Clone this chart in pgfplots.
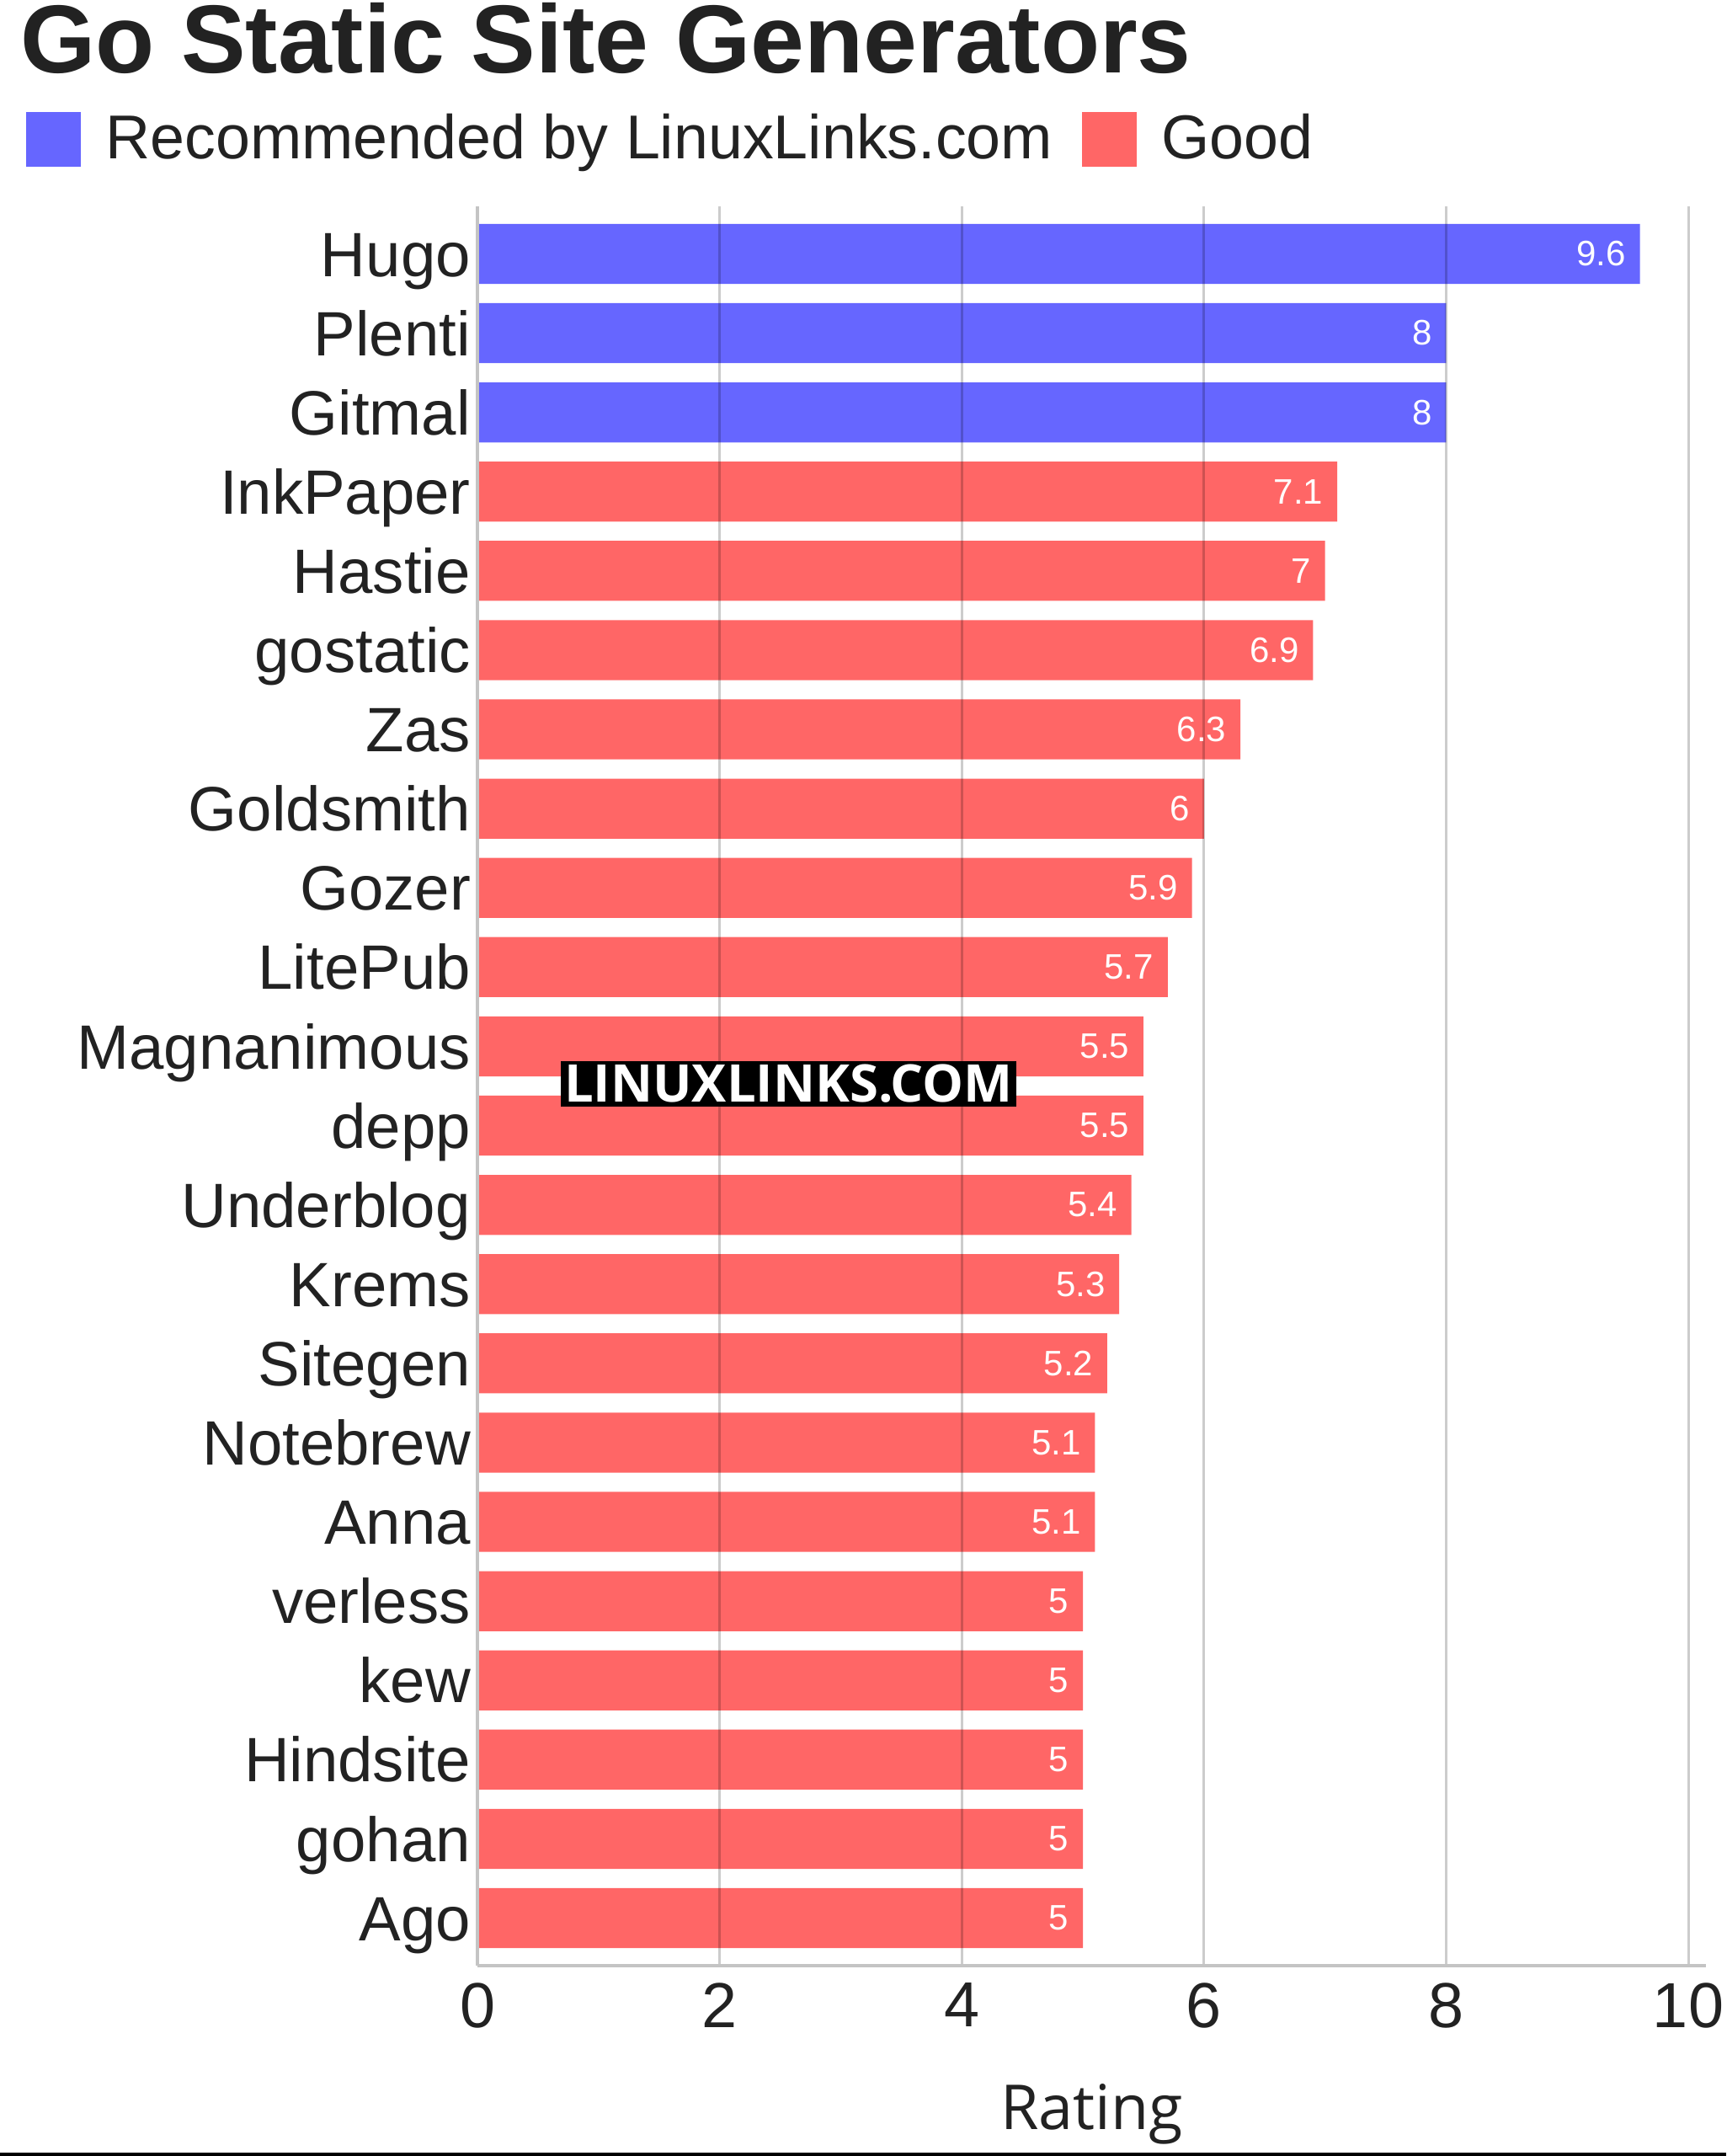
\documentclass[border=0pt]{standalone}
\usepackage{fontspec}
\setmainfont{Liberation Sans}
\newfontfamily\opensans{Open Sans}
\usepackage{pgfplots}
\pgfplotsset{compat=1.18}
\definecolor{rec}{HTML}{6666FF}
\definecolor{good}{HTML}{FF6666}
\definecolor{txt}{HTML}{222222}
\definecolor{axl}{HTML}{C4C4C4}
\begin{document}
\begin{tikzpicture}
\useasboundingbox (0pt,0pt) rectangle (512.5pt,640pt);
\begin{axis}[
  at={(141.8pt,56.5pt)}, anchor=south west,
  scale only axis, width=364.7pt, height=522.25pt,
  xbar, bar width=0.757, bar shift=0pt,
  xmin=0, xmax=10.146, ymin=-0.6, ymax=21.6,
  xtick={0,2,4,6,8,10}, ytick={0,...,21},
  yticklabels={Ago,gohan,Hindsite,kew,verless,Anna,Notebrew,Sitegen,Krems,Underblog,depp,Magnanimous,LitePub,Gozer,Goldsmith,Zas,gostatic,Hastie,InkPaper,Gitmal,Plenti,Hugo},
  axis x line*=bottom, axis y line*=left,
  axis line style={draw=axl, line width=1pt, -},
  major tick length=0pt, tick style={draw=none},
  xmajorgrids, grid style={black, opacity=0.2, line width=0.75pt},
  axis on top,
  /pgf/number format/assume math mode=true,
  ticklabel style={font=\fontsize{18.9pt}{20pt}\selectfont, text=txt},
  yticklabel style={font=\fontsize{18.6pt}{20pt}\selectfont, inner sep=0pt, anchor=base east, xshift=-1.9pt, yshift=-6.66pt},
  xticklabel style={inner sep=0pt, anchor=north, yshift=-5pt},
  xlabel={Rating},
  xlabel style={font=\opensans\fontsize{18.4pt}{20pt}\selectfont, text=txt, at={(axis description cs:0.5,-0.0929)}, anchor=base, inner sep=0pt},
  nodes near coords, nodes near coords align={anchor=east},
  every node near coord/.append style={font=\fontsize{10.5pt}{12pt}\selectfont, text=white, inner sep=0pt, xshift=-4pt},
  legend columns=2, legend cell align=left,
  legend style={at={(axis description cs:-0.3678,1.0382)}, anchor=west, draw=none, fill=none, inner sep=0pt, font=\fontsize{18.4pt}{20pt}\selectfont, text=txt, nodes={inner sep=0pt}, /tikz/every even column/.append style={column sep=8.75pt}},
  legend image code/.code={\fill[#1] (0pt,-8.1pt) rectangle (16.2pt,8.1pt); \path (23.5pt,0pt);},
]
\addplot[fill=rec, draw=none] coordinates {(9.6,21) (8,20) (8,19)};
\addplot[fill=good, draw=none] coordinates {(7.1,18) (7,17) (6.9,16) (6.3,15) (6,14) (5.9,13) (5.7,12) (5.5,11) (5.5,10) (5.4,9) (5.3,8) (5.2,7) (5.1,6) (5.1,5) (5,4) (5,3) (5,2) (5,1) (5,0)};
\legend{Recommended by LinuxLinks.com, Good}
\end{axis}
\node[anchor=base west, font=\bfseries\fontsize{28.7pt}{30pt}\selectfont, text=txt, inner sep=0pt] at (5.8pt,618.3pt) {Go Static Site Generators};
\node[fill=black, text=white, font=\opensans\bfseries\fontsize{15.4pt}{15pt}\selectfont, inner xsep=1pt, inner ysep=0pt, minimum height=13.5pt] at (234.1pt,318.25pt) {LINUXLINKS.COM};
\fill[black] (0pt,0pt) rectangle (512.5pt,1pt);
\end{tikzpicture}
\end{document}
